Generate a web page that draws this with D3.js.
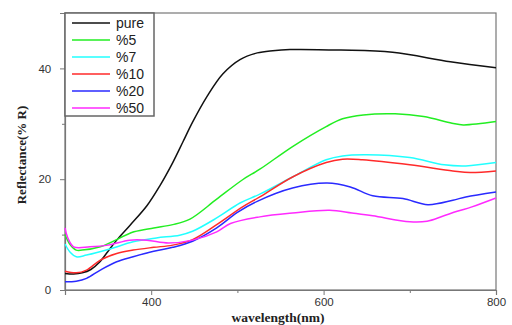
<!DOCTYPE html>
<html><head><meta charset="utf-8">
<script src="https://cdn.jsdelivr.net/npm/d3@7"></script>
<style>body{margin:0;background:#fff}svg{display:block}</style>
</head><body><svg id="c" width="512" height="325"></svg>
<script>
const seriesNames = ["pure","%5","%7","%10","%20","%50"];
const seriesColors = ["#111111","#22ee22","#22ffff","#ff2a2a","#2a2aff","#ff2aff"];
const pureData = [[300,3.0],[310,2.9],[320,3.1],[330,3.7],[340,5.0],[350,7.0],[360,9.0],[375,11.6],[395,15.2],[410,18.8],[425,23],[437,26.8],[448,30.3],[465,35],[483,39],[503,41.6],[523,42.8],[541,43.2],[561,43.4],[620,43.3],[680,42.9],[747,41.2],[800,40.1]];
const p5Data = [[300,10.0],[305,8.4],[313,7.2],[320,7.2],[341,7.8],[380,10.5],[403,11.2],[425,11.8],[445,12.8],[476,16.4],[506,19.9],[526,21.8],[564,25.9],[603,29.5],[622,30.9],[646,31.6],[683,31.8],[716,31.3],[749,30.1],[762,29.8],[800,30.4]];
const p7Data = [[300,8.3],[306,6.8],[313,6.0],[325,6.3],[352,7.4],[379,8.7],[406,9.4],[433,9.9],[448,10.6],[476,13.0],[503,15.7],[526,17.3],[564,20.4],[603,23.5],[622,24.2],[650,24.4],[700,23.9],[740,22.6],[765,22.4],[800,23.0]];
const p10Data = [[300,3.4],[313,3.1],[325,3.6],[341,5.4],[360,6.6],[379,7.2],[403,7.7],[425,8.1],[448,9.1],[476,11.8],[506,15.0],[526,16.8],[564,20.4],[603,23.0],[622,23.6],[645,23.5],[700,22.6],[750,21.5],[770,21.2],[800,21.5]];
const p20Data = [[300,1.5],[313,1.6],[325,2.1],[341,3.6],[360,5.1],[379,6.0],[403,7.0],[425,7.7],[448,8.8],[476,11.2],[500,14.0],[523,16.0],[564,18.4],[604,19.3],[631,18.6],[657,17.0],[692,16.5],[721,15.4],[750,16.2],[765,16.8],[800,17.7]];
const p50Data = [[300,11.2],[303,9.5],[310,7.8],[329,7.8],[350,8.1],[375,9.0],[395,9.0],[420,8.5],[448,9.0],[476,10.5],[492,12.0],[526,13.2],[564,13.9],[607,14.4],[633,13.9],[657,13.4],[700,12.3],[720,12.4],[738,13.3],[755,14.2],[772,15.0],[800,16.6]];
const allData = [pureData,p5Data,p7Data,p10Data,p20Data,p50Data];
const xTicks = [400,600,800];
const xMinor = [500,700];
const yTicks = [0,20,40];
const yMinor = [10,30];

const svg = d3.select("#c");
const L=65,R=496,T=13,B=290;
const x = d3.scaleLinear().domain([300,800]).range([L,R]);
const y = d3.scaleLinear().domain([0,50]).range([B,T]);
const axCol="#777";

svg.append("rect").attr("x",L).attr("y",T).attr("width",R-L).attr("height",B-T)
  .attr("fill","none").attr("stroke",axCol).attr("stroke-width",1.2);

const gx = svg.append("g").attr("transform",`translate(0,${B})`)
  .call(d3.axisBottom(x).tickValues(xTicks).tickSize(5).tickFormat(d3.format("d")));
gx.call(g=>{g.select(".domain").attr("stroke",axCol).attr("stroke-width",1.2);
  g.selectAll("line").attr("stroke",axCol);
  g.selectAll("text").attr("font-family","Liberation Sans, Arial, sans-serif").attr("font-size",11.5).attr("fill","#333").attr("y",8).attr("dy","0.71em");});
svg.append("g").attr("transform",`translate(0,${B})`)
  .call(d3.axisBottom(x).tickValues(xMinor).tickSize(3).tickFormat(""))
  .call(g=>{g.select(".domain").remove();g.selectAll("line").attr("stroke",axCol);});

const gy = svg.append("g").attr("transform",`translate(${L},0)`)
  .call(d3.axisLeft(y).tickValues(yTicks).tickSize(5));
gy.call(g=>{g.select(".domain").attr("stroke",axCol).attr("stroke-width",1.2);
  g.selectAll("line").attr("stroke",axCol);
  g.selectAll("text").attr("font-family","Liberation Sans, Arial, sans-serif").attr("font-size",11.5).attr("fill","#333").attr("dx","-0.5em");});
svg.append("g").attr("transform",`translate(${L},0)`)
  .call(d3.axisLeft(y).tickValues(yMinor).tickSize(3).tickFormat(""))
  .call(g=>{g.select(".domain").remove();g.selectAll("line").attr("stroke",axCol);});

const line = d3.line().x(d=>x(d[0])).y(d=>y(d[1])).curve(d3.curveCatmullRom.alpha(0.5));
const plot = svg.append("g");
allData.forEach((d,i)=>{
  plot.append("path").datum(d).attr("d",line).attr("fill","none")
    .attr("stroke",seriesColors[i]).attr("stroke-width",1.5);
});

const lg = svg.append("g");
lg.append("rect").attr("x",L).attr("y",T).attr("width",89).attr("height",103)
  .attr("fill","#fff").attr("stroke","#666").attr("stroke-width",1.5);
seriesNames.forEach((n,i)=>{
  const yy = T+10+i*17;
  lg.append("line").attr("x1",72).attr("x2",110).attr("y1",yy).attr("y2",yy)
    .attr("stroke",seriesColors[i]).attr("stroke-width",1.5);
  lg.append("text").attr("x",116).attr("y",yy).attr("dy","0.35em")
    .attr("font-family","Liberation Sans, Arial, sans-serif").attr("font-size",14)
    .attr("fill","#222").text(n);
});

svg.append("text").attr("x",278).attr("y",322).attr("text-anchor","middle")
  .attr("font-family","Liberation Serif, Times New Roman, serif").attr("font-weight","bold")
  .attr("font-size",13.5).attr("fill","#222").text("wavelength(nm)");
svg.append("text").attr("transform","translate(26,155) rotate(-90)").attr("text-anchor","middle")
  .attr("font-family","Liberation Serif, Times New Roman, serif").attr("font-weight","bold")
  .attr("font-size",13).attr("fill","#222").text("Reflectance(% R)");
</script></body></html>
